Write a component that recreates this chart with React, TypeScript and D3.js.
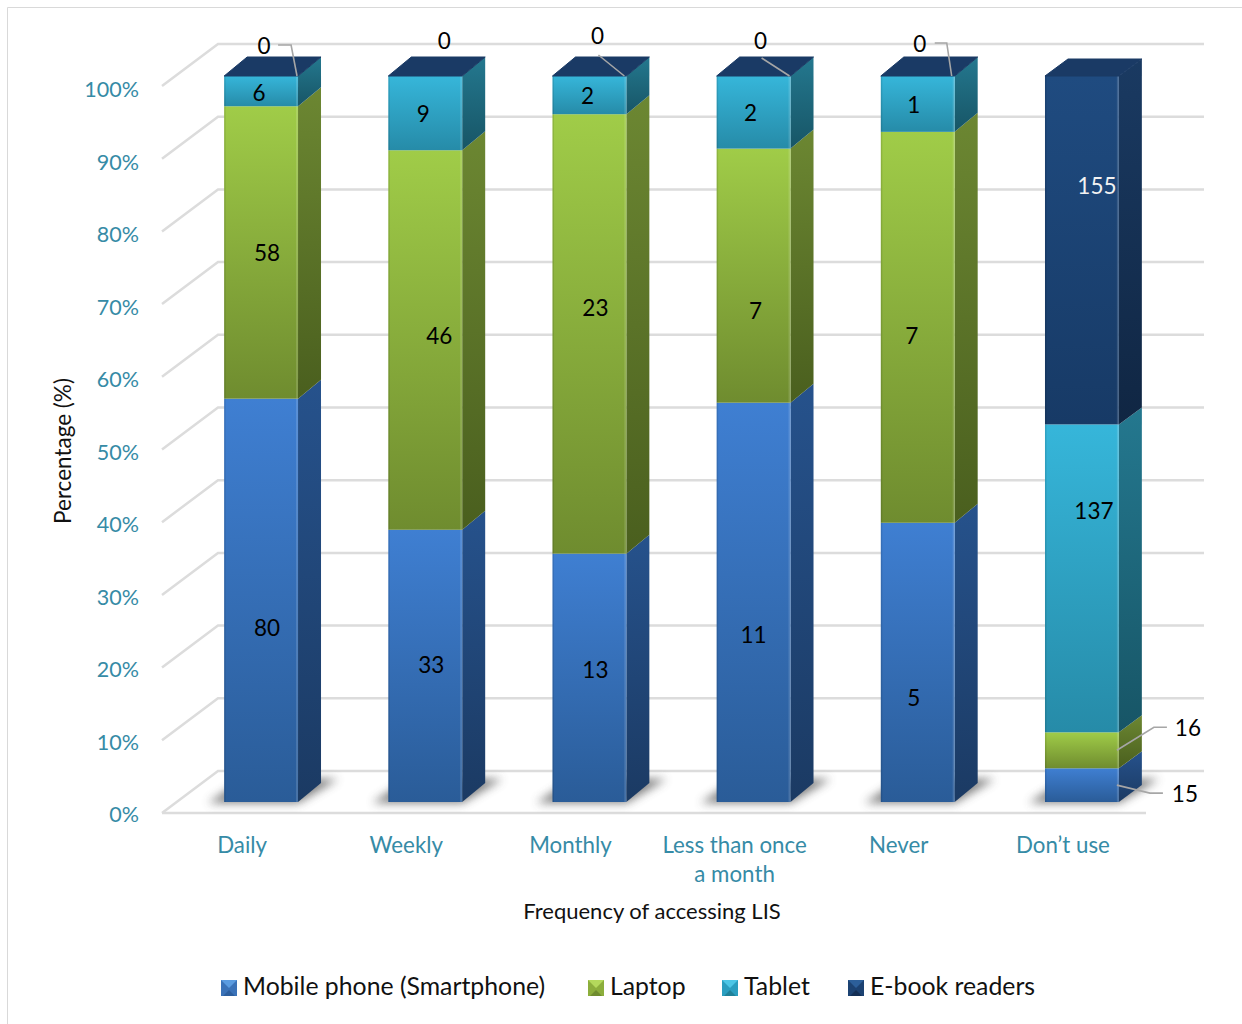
import React from "react";
import * as d3 from "d3";

// Responses per access frequency, by device
const categories = ["Daily", "Weekly", "Monthly", "Less than once a month", "Never", "Don’t use"];
const mobilePhone = [80, 33, 13, 11, 5, 15];
const laptop = [58, 46, 23, 7, 7, 16];
const tablet = [6, 9, 2, 2, 1, 137];
const eReaders = [0, 0, 0, 0, 0, 155];
const seriesNames = ["Mobile phone (Smartphone)", "Laptop", "Tablet", "E-book readers"];
const percentTicks = [0, 10, 20, 30, 40, 50, 60, 70, 80, 90, 100];

const seriesValues = [mobilePhone, laptop, tablet, eReaders];

// Face colours: front top, front bottom, side top, side bottom
const palette = [
  ["#3f7fd2", "#2a5c98", "#26528c", "#1b3a63"],
  ["#a0cc48", "#6f8c2f", "#6c8732", "#4a5f1e"],
  ["#36b6da", "#268ba8", "#24788f", "#175566"],
  ["#1f4b80", "#173a66", "#1a3a62", "#102643"],
];
// Key swatch facets: top, flanks, bottom
const swatchFacets = [
  ["#5a9be0", "#3a72b8", "#2c5e9e"],
  ["#b4d95c", "#8cae3c", "#6f8c2f"],
  ["#4cc6e6", "#2a9ec0", "#1f8199"],
  ["#2c5f9a", "#1c4272", "#142f55"],
];
const legendX = [221, 588, 722, 848];

// Hand placement of value labels relative to each segment's centre: [dx, dy]
const labelNudge = [
  [[6, 27], [6, 0], [-2, 1], [3, 0]],
  [[6, -2], [14, -5], [-2, 0], [19, 0]],
  [[6, -9], [6, -27], [-2, 0], [8, 0]],
  [[0, 32], [2, 34], [-3, 0], [7, 0]],
  [[-4, 35], [-6, 8], [-4, 0], [2, 0]],
  [[103, 8], [106, -23], [12, -68], [15, -65]],
];
// Zero labels sit above the bar top by these distances
const zeroLift = [31, 36, 41, 36, 33];

// Leader lines: category, series, then label-relative start and elbow, end inset on the bar
type Leader = { c: number; s: number; pts: [number, number][]; inset: [number, number] };
const leaders: Leader[] = [
  { c: 0, s: 3, pts: [[14, 0], [27, 0]], inset: [1, 0] },
  { c: 2, s: 3, pts: [[1, 20]], inset: [2, 0] },
  { c: 3, s: 3, pts: [[1, 18]], inset: [1, 0] },
  { c: 4, s: 3, pts: [[15, 0], [27, 0]], inset: [3, 0] },
  { c: 5, s: 1, pts: [[-21, 0], [-34, 0]], inset: [2, 0] },
  { c: 5, s: 0, pts: [[-22, 0], [-35, 0]], inset: [2, 0] },
];

const TEAL = "#368ba6";
const GRID = "#dcdcdc";
const FONT = "Lato, Carlito, sans-serif";
const DEPTH_X = 23;
const DEPTH_Y = 19;

const stacked = d3
  .stack<number[], number>()
  .keys([0, 1, 2, 3])
  .value((row, k) => row[k])
  .offset(d3.stackOffsetExpand)(categories.map((_, i) => seriesValues.map((s) => s[i])));

const xBand = d3.scaleBand<string>().domain(categories).range([161, 1146]).paddingInner(0.55).paddingOuter(0.275);
const BAR_SHIFT = 18;
const barLeft = (i: number) => (xBand(categories[i]) as number) + BAR_SHIFT;
const barW = xBand.bandwidth();
const yBar = d3.scaleLinear().domain([0, 1]).range([802, 76]);
const yTickLabel = d3.scaleLinear().domain([0, 100]).range([813, 88]);
const yGridFront = d3.scaleLinear().domain([0, 100]).range([813, 86]);
const poly = d3.line<[number, number]>();

const shadowPts = (x: number): [number, number][] => [
  [x - 16, 803],
  [x + barW, 803],
  [x + barW + 40, 779],
  [x + 20, 779],
];

function wrapLabel(label: string): string[] {
  return label === "Less than once a month" ? ["Less than once", "a month"] : [label];
}

export default function App() {
  return (
    <svg
      width={1242}
      height={1024}
      viewBox="0 0 1242 1024"
      style={{ position: "absolute", left: 0, top: 0, display: "block", background: "#fff" }}
      fontFamily={FONT}
    >
      <defs>
        <filter id="floorBlur" x="-30%" y="-60%" width="160%" height="220%">
          <feGaussianBlur stdDeviation="5" />
        </filter>
        {palette.map((c, i) => (
          <React.Fragment key={i}>
            <linearGradient id={`front${i}`} x1="0" y1="0" x2="0" y2="1">
              <stop offset="0" stopColor={c[0]} />
              <stop offset="1" stopColor={c[1]} />
            </linearGradient>
            <linearGradient id={`side${i}`} x1="0" y1="0" x2="0" y2="1">
              <stop offset="0" stopColor={c[2]} />
              <stop offset="1" stopColor={c[3]} />
            </linearGradient>
          </React.Fragment>
        ))}
      </defs>

      {/* chart frame */}
      <path d="M7.5 1024V7.5H1242" fill="none" stroke="#d9d9d9" strokeWidth={1} />

      {/* walls and floor */}
      {percentTicks.map((t) => {
        const y = yGridFront(t);
        return (
          <path
            key={t}
            d={poly([[162, y], [218, y - 42], [1204, y - 42]]) as string}
            fill="none"
            stroke={GRID}
            strokeWidth={2.5}
          />
        );
      })}
      <path d={`M162 ${yGridFront(0)}H1146`} stroke={GRID} strokeWidth={2.5} fill="none" />

      {/* percentage axis */}
      {percentTicks.map((t) => (
        <text key={t} x={139} y={yTickLabel(t) + 9} textAnchor="end" fontSize={21.5} fill={TEAL}>
          {t}%
        </text>
      ))}
      <text
        transform={`translate(71,451) rotate(-90)`}
        textAnchor="middle"
        fontSize={22.5}
        fill="#111"
      >
        Percentage (%)
      </text>

      {/* category axis */}
      {categories.map((c) =>
        wrapLabel(c).map((line, j) => (
          <text
            key={line}
            x={(xBand(c) as number) + barW / 2 - 1}
            y={853 + j * 29}
            textAnchor="middle"
            fontSize={22.3}
            fill={TEAL}
          >
            {line}
          </text>
        ))
      )}
      <text x={652} y={919} textAnchor="middle" fontSize={22} fill="#111">
        Frequency of accessing LIS
      </text>

      {/* floor shadows */}
      {categories.map((c, i) => (
        <path
          key={c}
          d={(poly(shadowPts(barLeft(i))) as string) + "Z"}
          fill="#4a4a4a"
          opacity={0.7}
          filter="url(#floorBlur)"
        />
      ))}

      {/* stacked bars */}
      {categories.map((c, i) => {
        const x = barLeft(i);
        const hasCap = eReaders[i] > 0;
        // the column with a real top segment has softened corners, so its lid reads a touch shallower
        const depthY = hasCap ? DEPTH_Y - 2 : DEPTH_Y;
        return (
          <g key={c}>
            {stacked.map((layer, s) => {
              const [v0, v1] = layer[i];
              if (v1 - v0 <= 0) return null;
              const yb = yBar(v0);
              const yt = yBar(v1);
              return (
                <g key={s}>
                  <path
                    d={
                      (poly([
                        [x + barW, yb],
                        [x + barW + DEPTH_X, yb - depthY],
                        [x + barW + DEPTH_X, yt - depthY],
                        [x + barW, yt],
                      ]) as string) + "Z"
                    }
                    fill={`url(#side${s})`}
                  />
                  <rect x={x} y={yt} width={barW} height={yb - yt} fill={`url(#front${s})`} />
                  <rect x={x + barW - 2} y={yt} width={2} height={yb - yt} fill="#fff" opacity={0.14} />
                  <rect x={x} y={yt} width={1.5} height={yb - yt} fill="#000" opacity={0.1} />
                </g>
              );
            })}
            {/* bar lid */}
            <path
              d={
                (poly([
                  [x, yBar(1)],
                  [x + DEPTH_X, yBar(1) - depthY],
                  [x + barW + DEPTH_X, yBar(1) - depthY],
                  [x + barW, yBar(1)],
                ]) as string) + "Z"
              }
              fill="#1a3a65"
              stroke="#1a3a65"
              strokeWidth={1}
              strokeLinejoin="round"
            />
          </g>
        );
      })}

      {/* leader lines */}
      {leaders.map(({ c, s, pts, inset }) => {
        const [v0, v1] = stacked[s][c];
        const cx = barLeft(c) + barW / 2;
        const [dx, dy] = labelNudge[c][s];
        const lift = v1 - v0 === 0 ? -(zeroLift[c] ?? 0) : 0;
        const lx = cx + dx;
        const ly = yBar((v0 + v1) / 2) + dy + lift;
        const coords = pts.map(([a, b]) => [lx + a, ly + b] as [number, number]);
        coords.push([barLeft(c) + barW - inset[0], yBar((v0 + v1) / 2) + inset[1]]);
        return <path key={`${c}-${s}`} d={poly(coords) as string} fill="none" stroke="#a6a6a6" strokeWidth={1.6} />;
      })}

      {/* value labels */}
      {categories.map((c, i) =>
        stacked.map((layer, s) => {
          const [v0, v1] = layer[i];
          const value = seriesValues[s][i];
          const [dx, dy] = labelNudge[i][s];
          const lift = value === 0 ? zeroLift[i] : 0;
          return (
            <text
              key={`${c}-${s}`}
              x={barLeft(i) + barW / 2 + dx}
              y={yBar((v0 + v1) / 2) + dy - lift + 9}
              textAnchor="middle"
              fontSize={22.5}
              fill={s === 3 && value > 0 ? "#f2f2f2" : "#000"}
            >
              {value}
            </text>
          );
        })
      )}

      {/* legend */}
      {seriesNames.map((name, i) => {
        const lx = legendX[i];
        const facet = swatchFacets[i];
        return (
          <g key={name}>
            <rect x={lx} y={980} width={16} height={16} fill={facet[1]} />
            <path d={(poly([[lx, 980], [lx + 16, 980], [lx + 8, 988]]) as string) + "Z"} fill={facet[0]} />
            <path d={(poly([[lx + 2, 996], [lx + 14, 996], [lx + 8, 990]]) as string) + "Z"} fill={facet[2]} />
            <text x={lx + 22} y={995} fontSize={24.8} fill="#111">
              {name}
            </text>
          </g>
        );
      })}
    </svg>
  );
}
